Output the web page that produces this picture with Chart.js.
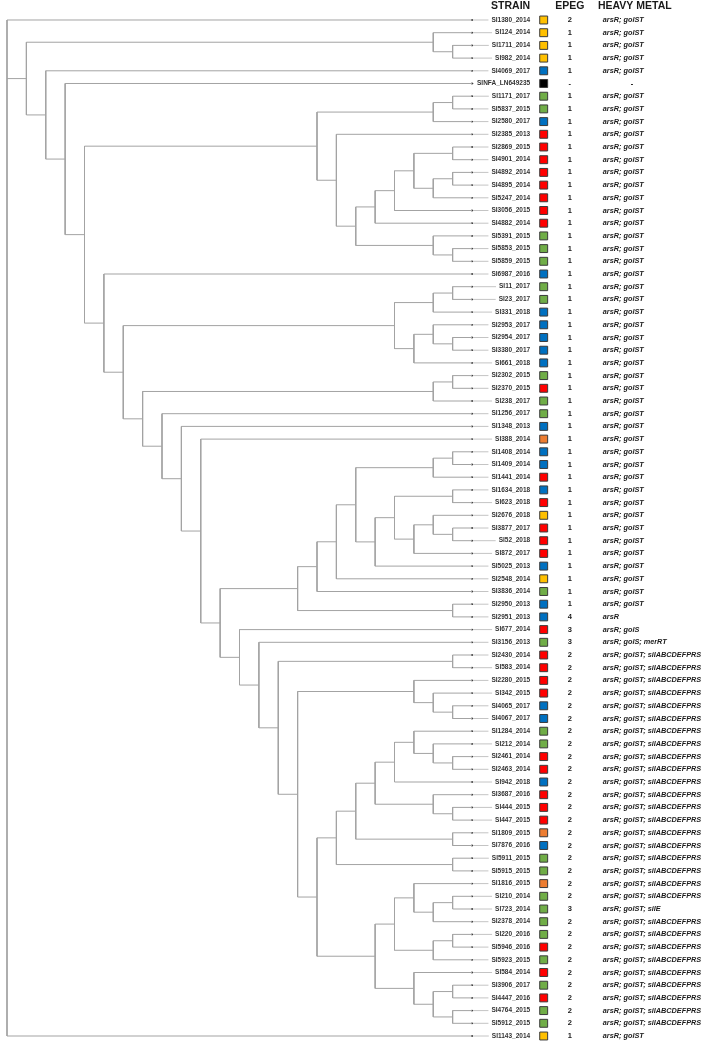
<!DOCTYPE html>
<html>
<head>
<meta charset="utf-8">
<title>Strain tree</title>
<script src="https://cdn.jsdelivr.net/npm/chart.js@4.4.1/dist/chart.umd.min.js"></script>
<style>
  html, body { margin: 0; padding: 0; background: #fff; }
  #wrap { width: 706px; height: 1044px; }
</style>
</head>
<body>
<div id="wrap"><canvas id="treeCanvas" width="706" height="1044"></canvas></div>
<script>
// strains, top to bottom
const strains = [
  'SI1380_2014', 'SI124_2014', 'SI1711_2014', 'SI982_2014', 'SI4069_2017', 'SINFA_LN649235', 'SI1171_2017', 'SI5837_2015', 'SI2580_2017', 'SI2385_2013',
  'SI2869_2015', 'SI4901_2014', 'SI4892_2014', 'SI4895_2014', 'SI5247_2014', 'SI3056_2015', 'SI4882_2014', 'SI5391_2015', 'SI5853_2015', 'SI5859_2015',
  'SI6987_2016', 'SI11_2017', 'SI23_2017', 'SI331_2018', 'SI2953_2017', 'SI2954_2017', 'SI3380_2017', 'SI661_2018', 'SI2302_2015', 'SI2370_2015',
  'SI238_2017', 'SI1256_2017', 'SI1348_2013', 'SI388_2014', 'SI1408_2014', 'SI1409_2014', 'SI1441_2014', 'SI1634_2018', 'SI623_2018', 'SI2676_2018',
  'SI3877_2017', 'SI52_2018', 'SI872_2017', 'SI5025_2013', 'SI2548_2014', 'SI3836_2014', 'SI2950_2013', 'SI2951_2013', 'SI677_2014', 'SI3156_2013',
  'SI2430_2014', 'SI583_2014', 'SI2280_2015', 'SI342_2015', 'SI4065_2017', 'SI4067_2017', 'SI1284_2014', 'SI212_2014', 'SI2461_2014', 'SI2463_2014',
  'SI942_2018', 'SI3687_2016', 'SI444_2015', 'SI447_2015', 'SI1809_2015', 'SI7876_2016', 'SI5911_2015', 'SI5915_2015', 'SI1816_2015', 'SI210_2014',
  'SI723_2014', 'SI2378_2014', 'SI220_2016', 'SI5946_2016', 'SI5923_2015', 'SI584_2014', 'SI3906_2017', 'SI4447_2016', 'SI4764_2015', 'SI5912_2015',
  'SI1143_2014'
];

// colour key of the box next to each strain
const boxGroup = [
  'Y', 'Y', 'Y', 'Y', 'B', 'K', 'G', 'G', 'B', 'R',
  'R', 'R', 'R', 'R', 'R', 'R', 'R', 'G', 'G', 'G',
  'B', 'G', 'G', 'B', 'B', 'B', 'B', 'B', 'G', 'R',
  'G', 'G', 'B', 'O', 'B', 'B', 'R', 'B', 'R', 'Y',
  'R', 'R', 'R', 'B', 'Y', 'G', 'B', 'B', 'R', 'G',
  'R', 'R', 'R', 'R', 'B', 'B', 'G', 'G', 'R', 'R',
  'B', 'R', 'R', 'R', 'O', 'B', 'G', 'G', 'O', 'G',
  'G', 'G', 'G', 'R', 'G', 'R', 'G', 'R', 'G', 'G',
  'Y'
];
const groupColors = { Y: '#ffc000', B: '#0070c0', K: '#000000', G: '#70ad47', R: '#ff0000', O: '#ed7d31' };

const epeg = [
  '2', '1', '1', '1', '1', '-', '1', '1', '1', '1',
  '1', '1', '1', '1', '1', '1', '1', '1', '1', '1',
  '1', '1', '1', '1', '1', '1', '1', '1', '1', '1',
  '1', '1', '1', '1', '1', '1', '1', '1', '1', '1',
  '1', '1', '1', '1', '1', '1', '1', '4', '3', '3',
  '2', '2', '2', '2', '2', '2', '2', '2', '2', '2',
  '2', '2', '2', '2', '2', '2', '2', '2', '2', '2',
  '3', '2', '2', '2', '2', '2', '2', '2', '2', '2',
  '1'
];

const GS = 'arsR; golST';
const SIL = 'arsR; golST; silABCDEFPRS';
const heavyMetal = [
  GS, GS, GS, GS, GS, '-', GS, GS, GS, GS,
  GS, GS, GS, GS, GS, GS, GS, GS, GS, GS,
  GS, GS, GS, GS, GS, GS, GS, GS, GS, GS,
  GS, GS, GS, GS, GS, GS, GS, GS, GS, GS,
  GS, GS, GS, GS, GS, GS, GS, 'arsR', 'arsR; golS', 'arsR; golS; merRT',
  SIL, SIL, SIL, SIL, SIL, SIL, SIL, SIL, SIL, SIL,
  SIL, SIL, SIL, SIL, SIL, SIL, SIL, SIL, SIL, SIL,
  'arsR; golST; silE', SIL, SIL, SIL, SIL, SIL, SIL, SIL, SIL, SIL,
  GS
];

const headers = ['STRAIN', 'EPEG', 'HEAVY METAL'];

// tree topology (nested clades)
const c1 = ['SI124_2014', ['SI1711_2014', 'SI982_2014']];
const c2a = [['SI2869_2015', 'SI4901_2014'], [['SI4892_2014', 'SI4895_2014'], 'SI5247_2014']];
const c2 = [[['SI1171_2017', 'SI5837_2015'], 'SI2580_2017'],
  ['SI2385_2013', [[[c2a, 'SI3056_2015'], 'SI4882_2014'], ['SI5391_2015', ['SI5853_2015', 'SI5859_2015']]]]];
const c3 = [[['SI11_2017', 'SI23_2017'], 'SI331_2018'], [['SI2953_2017', ['SI2954_2017', 'SI3380_2017']], 'SI661_2018']];
const c4 = [['SI2302_2015', 'SI2370_2015'], 'SI238_2017'];
const c5a = [['SI1634_2018', 'SI623_2018'], [['SI2676_2018', ['SI3877_2017', 'SI52_2018']], 'SI872_2017']];
const c5 = [[[[[['SI1408_2014', 'SI1409_2014'], 'SI1441_2014'], [c5a, 'SI5025_2013']], 'SI2548_2014'], 'SI3836_2014'],
  ['SI2950_2013', 'SI2951_2013']];
const c6a = ['SI2280_2015', ['SI342_2015', ['SI4065_2017', 'SI4067_2017']]];
const c6b = [[[[['SI1284_2014', ['SI212_2014', ['SI2461_2014', 'SI2463_2014']]], 'SI942_2018'],
  ['SI3687_2016', ['SI444_2015', 'SI447_2015']]], ['SI1809_2015', 'SI7876_2016']], ['SI5911_2015', 'SI5915_2015']];
const c6c = [['SI1816_2015', [['SI210_2014', 'SI723_2014'], 'SI2378_2014']], [['SI220_2016', 'SI5946_2016'], 'SI5923_2015']];
const c6d = ['SI584_2014', [['SI3906_2017', 'SI4447_2016'], ['SI4764_2015', 'SI5912_2015']]];
const c6 = [['SI2430_2014', 'SI583_2014'], [c6a, [c6b, [c6c, c6d]]]];
const n240 = ['SI677_2014', ['SI3156_2013', c6]];
const n182 = ['SI1348_2013', ['SI388_2014', [c5, n240]]];
const n124 = [c3, [c4, ['SI1256_2017', n182]]];
const tree = ['SI1380_2014', [c1, ['SI4069_2017', ['SINFA_LN649235', [c2, ['SI6987_2016', n124]]]]], 'SI1143_2014'];

// columns, in tree-depth units
const nameCol = 27.0;
const boxCol = 27.7;
const epegCol = 29.05;
const metalCol = 30.75;
const metalHeadCol = 30.5;

function layout(node) {
  if (typeof node === 'string') {
    return { y: strains.indexOf(node), h: 0 };
  }
  const kids = node.map(layout);
  return {
    y: (kids[0].y + kids[kids.length - 1].y) / 2,
    h: 1 + Math.max(...kids.map(k => k.h)),
    kids: kids
  };
}

const root = layout(tree);
const depth = root.h;

function branches(n, out) {
  if (!n.kids) return out;
  const x = depth - n.h;
  out.push({ x: x, y: n.kids[0].y }, { x: x, y: n.kids[n.kids.length - 1].y }, { x: null, y: null });
  n.kids.forEach(k => {
    out.push({ x: x, y: k.y }, { x: depth - k.h, y: k.y }, { x: null, y: null });
    branches(k, out);
  });
  return out;
}

const FONT = 'Arial, "Liberation Sans", sans-serif';

const tablePlugin = {
  id: 'tablePlugin',
  beforeDatasetsDraw(chart) {
    const { ctx, scales: { x, y } } = chart;
    const tipX = x.getPixelForValue(depth);
    const nameX = x.getPixelForValue(nameCol);
    ctx.save();
    ctx.font = 'bold 6.5px ' + FONT;
    ctx.strokeStyle = '#c4c4c4';
    ctx.lineWidth = 1;
    strains.forEach((s, i) => {
      const w = ctx.measureText(s).width;
      const yy = y.getPixelForValue(i);
      ctx.beginPath();
      ctx.moveTo(tipX, yy);
      ctx.lineTo(nameX - w - 3, yy);
      ctx.stroke();
    });
    ctx.restore();
  },
  afterDatasetsDraw(chart) {
    const { ctx, scales: { x, y } } = chart;
    const nameX = x.getPixelForValue(nameCol);
    const epegX = x.getPixelForValue(epegCol);
    const metalX = x.getPixelForValue(metalCol);
    ctx.save();
    ctx.textBaseline = 'middle';

    // headers
    ctx.fillStyle = '#1a1a1a';
    ctx.font = 'bold 10.5px ' + FONT;
    ctx.textAlign = 'right';
    ctx.fillText(headers[0], nameX, 6);
    ctx.textAlign = 'center';
    ctx.fillText(headers[1], epegX, 6);
    ctx.textAlign = 'left';
    ctx.fillText(headers[2], x.getPixelForValue(metalHeadCol), 6);

    strains.forEach((s, i) => {
      const yy = y.getPixelForValue(i);
      ctx.fillStyle = '#333';
      ctx.font = 'bold 6.5px ' + FONT;
      ctx.textAlign = 'right';
      ctx.fillText(s, nameX, yy);

      ctx.fillStyle = '#1a1a1a';
      ctx.font = 'bold 7.5px ' + FONT;
      ctx.textAlign = 'center';
      ctx.fillText(epeg[i], epegX, yy);

      ctx.font = 'italic bold 7.3px ' + FONT;
      if (heavyMetal[i] === '-') {
        ctx.fillText('-', x.getPixelForValue(metalCol + 1.5), yy);
      } else {
        ctx.textAlign = 'left';
        ctx.fillText(heavyMetal[i], metalX, yy);
      }
    });
    ctx.restore();
  }
};

const lineData = branches(root, []);

new Chart(document.getElementById('treeCanvas'), {
  type: 'scatter',
  data: {
    datasets: [
      {
        label: 'branches',
        data: lineData,
        showLine: true,
        spanGaps: false,
        borderColor: '#a3a3a3',
        borderWidth: 1,
        pointRadius: 0,
        clip: false
      },
      {
        label: 'tips',
        data: strains.map((s, i) => ({ x: depth, y: i })),
        pointRadius: 0.9,
        pointBorderWidth: 0,
        backgroundColor: '#222'
      },
      {
        label: 'group',
        data: strains.map((s, i) => ({ x: boxCol, y: i })),
        pointStyle: 'rect',
        pointRadius: 5.6,
        pointBorderWidth: 1,
        borderColor: '#3a3a3a',
        backgroundColor: boxGroup.map(g => groupColors[g])
      }
    ]
  },
  options: {
    responsive: false,
    animation: false,
    layout: { padding: 0, autoPadding: false },
    plugins: { legend: { display: false }, tooltip: { enabled: false } },
    scales: {
      x: { type: 'linear', display: false, min: -0.3613, max: 36.0774 },
      y: { type: 'linear', display: false, reverse: true, min: -1.5748, max: 80.6299 }
    }
  },
  plugins: [tablePlugin]
});
</script>
</body>
</html>
